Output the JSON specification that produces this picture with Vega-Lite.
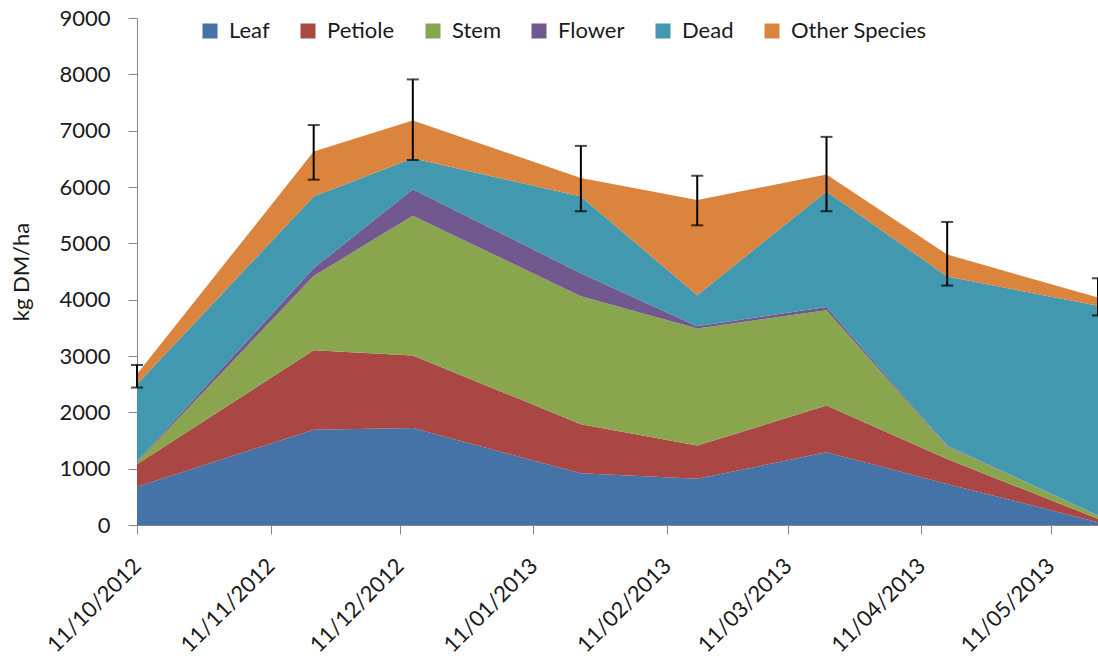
{
  "$schema": "https://vega.github.io/schema/vega-lite/v6.json",
  "width": 961,
  "height": 507,
  "autosize": "none",
  "padding": {"left": 137, "top": 18, "right": 0, "bottom": 138},
  "background": "white",
  "config": {
    "view": {"stroke": null},
    "font": "Lato",
    "axis": {
      "labelFont": "Lato", "labelFontSize": 22, "labelColor": "#1a1a1a",
      "titleFont": "Lato", "titleFontSize": 22, "titleFontWeight": "normal", "titleColor": "#1a1a1a",
      "domainColor": "#868686", "tickColor": "#868686", "grid": false, "tickSize": 9
    }
  },
  "datasets": {
    "parts": [
      {"date": "2012-10-11", "part": "Leaf", "rank": 1, "value": 680},
      {"date": "2012-10-11", "part": "Petiole", "rank": 2, "value": 400},
      {"date": "2012-10-11", "part": "Stem", "rank": 3, "value": 40},
      {"date": "2012-10-11", "part": "Flower", "rank": 4, "value": 10},
      {"date": "2012-10-11", "part": "Dead", "rank": 5, "value": 1370},
      {"date": "2012-10-11", "part": "Other Species", "rank": 6, "value": 180},
      {"date": "2012-11-21", "part": "Leaf", "rank": 1, "value": 1690},
      {"date": "2012-11-21", "part": "Petiole", "rank": 2, "value": 1410},
      {"date": "2012-11-21", "part": "Stem", "rank": 3, "value": 1320},
      {"date": "2012-11-21", "part": "Flower", "rank": 4, "value": 140},
      {"date": "2012-11-21", "part": "Dead", "rank": 5, "value": 1270},
      {"date": "2012-11-21", "part": "Other Species", "rank": 6, "value": 800},
      {"date": "2012-12-14", "part": "Leaf", "rank": 1, "value": 1720},
      {"date": "2012-12-14", "part": "Petiole", "rank": 2, "value": 1290},
      {"date": "2012-12-14", "part": "Stem", "rank": 3, "value": 2480},
      {"date": "2012-12-14", "part": "Flower", "rank": 4, "value": 470},
      {"date": "2012-12-14", "part": "Dead", "rank": 5, "value": 550},
      {"date": "2012-12-14", "part": "Other Species", "rank": 6, "value": 670},
      {"date": "2013-01-22", "part": "Leaf", "rank": 1, "value": 920},
      {"date": "2013-01-22", "part": "Petiole", "rank": 2, "value": 870},
      {"date": "2013-01-22", "part": "Stem", "rank": 3, "value": 2270},
      {"date": "2013-01-22", "part": "Flower", "rank": 4, "value": 410},
      {"date": "2013-01-22", "part": "Dead", "rank": 5, "value": 1360},
      {"date": "2013-01-22", "part": "Other Species", "rank": 6, "value": 330},
      {"date": "2013-02-18", "part": "Leaf", "rank": 1, "value": 820},
      {"date": "2013-02-18", "part": "Petiole", "rank": 2, "value": 590},
      {"date": "2013-02-18", "part": "Stem", "rank": 3, "value": 2080},
      {"date": "2013-02-18", "part": "Flower", "rank": 4, "value": 40},
      {"date": "2013-02-18", "part": "Dead", "rank": 5, "value": 550},
      {"date": "2013-02-18", "part": "Other Species", "rank": 6, "value": 1690},
      {"date": "2013-03-20", "part": "Leaf", "rank": 1, "value": 1290},
      {"date": "2013-03-20", "part": "Petiole", "rank": 2, "value": 830},
      {"date": "2013-03-20", "part": "Stem", "rank": 3, "value": 1690},
      {"date": "2013-03-20", "part": "Flower", "rank": 4, "value": 60},
      {"date": "2013-03-20", "part": "Dead", "rank": 5, "value": 2050},
      {"date": "2013-03-20", "part": "Other Species", "rank": 6, "value": 300},
      {"date": "2013-04-17", "part": "Leaf", "rank": 1, "value": 730},
      {"date": "2013-04-17", "part": "Petiole", "rank": 2, "value": 440},
      {"date": "2013-04-17", "part": "Stem", "rank": 3, "value": 230},
      {"date": "2013-04-17", "part": "Flower", "rank": 4, "value": 10},
      {"date": "2013-04-17", "part": "Dead", "rank": 5, "value": 3000},
      {"date": "2013-04-17", "part": "Other Species", "rank": 6, "value": 390},
      {"date": "2013-05-22", "part": "Leaf", "rank": 1, "value": 50},
      {"date": "2013-05-22", "part": "Petiole", "rank": 2, "value": 60},
      {"date": "2013-05-22", "part": "Stem", "rank": 3, "value": 60},
      {"date": "2013-05-22", "part": "Flower", "rank": 4, "value": 0},
      {"date": "2013-05-22", "part": "Dead", "rank": 5, "value": 3720},
      {"date": "2013-05-22", "part": "Other Species", "rank": 6, "value": 150}
    ],
    "errors": [
      {"date": "2012-10-11", "lo": 2440, "hi": 2840},
      {"date": "2012-11-21", "lo": 6130, "hi": 7100},
      {"date": "2012-12-14", "lo": 6480, "hi": 7910},
      {"date": "2013-01-22", "lo": 5570, "hi": 6730},
      {"date": "2013-02-18", "lo": 5320, "hi": 6200},
      {"date": "2013-03-20", "lo": 5570, "hi": 6890},
      {"date": "2013-04-17", "lo": 4250, "hi": 5380},
      {"date": "2013-05-22", "lo": 3720, "hi": 4380}
    ]
  },
  "layer": [
    {
      "data": {"name": "parts"},
      "mark": {"type": "area", "opacity": 1},
      "encoding": {
        "x": {
          "field": "date", "type": "temporal",
          "scale": {"type": "utc", "domain": [{"year": 2012, "month": 10, "date": 11, "utc": true}, {"year": 2013, "month": 5, "date": 22, "utc": true}]},
          "axis": {
            "title": null, "format": "%d/%m/%Y", "labelAngle": -45, "labelAlign": "right", "labelBaseline": "middle", "labelPadding": 28,
            "values": [
              {"year": 2012, "month": 10, "date": 11, "utc": true},
              {"year": 2012, "month": 11, "date": 11, "utc": true},
              {"year": 2012, "month": 12, "date": 11, "utc": true},
              {"year": 2013, "month": 1, "date": 11, "utc": true},
              {"year": 2013, "month": 2, "date": 11, "utc": true},
              {"year": 2013, "month": 3, "date": 11, "utc": true},
              {"year": 2013, "month": 4, "date": 11, "utc": true},
              {"year": 2013, "month": 5, "date": 11, "utc": true}
            ]
          }
        },
        "y": {
          "field": "value", "type": "quantitative", "stack": "zero",
          "scale": {"domain": [0, 9000], "nice": false},
          "axis": {"title": "kg DM/ha", "format": "d", "values": [0, 1000, 2000, 3000, 4000, 5000, 6000, 7000, 8000, 9000], "labelPadding": 18, "titlePadding": 25}
        },
        "order": {"field": "rank", "type": "quantitative", "sort": "ascending"},
        "color": {
          "field": "part", "type": "nominal",
          "sort": ["Leaf", "Petiole", "Stem", "Flower", "Dead", "Other Species"],
          "scale": {"domain": ["Leaf", "Petiole", "Stem", "Flower", "Dead", "Other Species"], "range": ["#4572A7", "#AA4643", "#89A54E", "#71588F", "#4198AF", "#DB843D"]},
          "legend": {
            "title": null, "orient": "none", "direction": "horizontal", "legendX": 62, "legendY": 2,
            "symbolType": "square", "symbolSize": 225, "symbolStrokeWidth": 0, "symbolOpacity": 1,
            "labelFont": "Lato", "labelFontSize": 22, "labelColor": "#1a1a1a", "labelOffset": 8, "columnPadding": 27
          }
        }
      }
    },
    {
      "data": {"name": "errors"},
      "mark": {"type": "errorbar", "color": "black", "ticks": {"size": 12, "thickness": 2, "color": "black"}, "rule": {"strokeWidth": 2, "color": "black"}},
      "encoding": {
        "x": {"field": "date", "type": "temporal", "scale": {"type": "utc"}},
        "y": {"field": "lo", "type": "quantitative", "title": "kg DM/ha"},
        "y2": {"field": "hi"}
      }
    }
  ]
}
